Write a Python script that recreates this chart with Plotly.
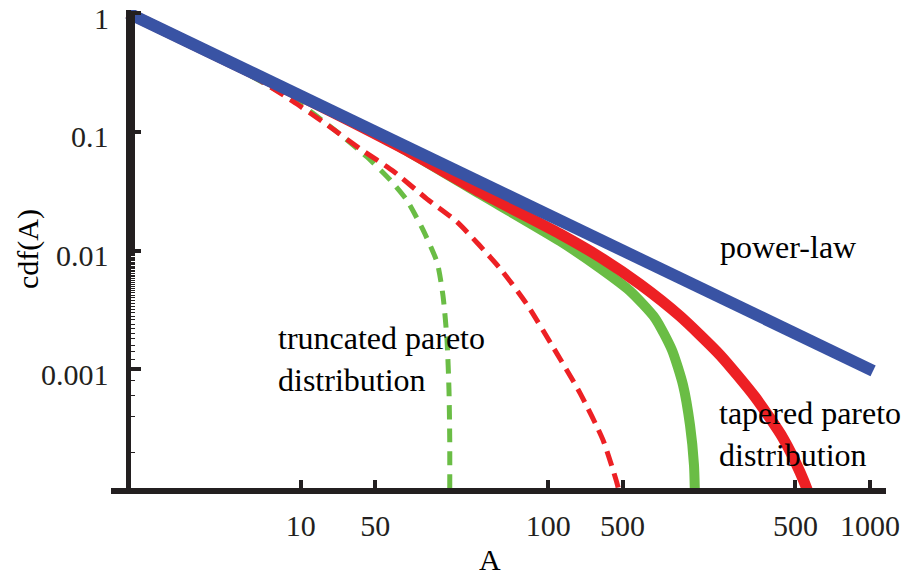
import math
import plotly.graph_objects as go

# Cumulative distributions of A (log-log), read point by point
power_law_A = [1, 10, 100, 1030]
power_law_cdf = [1, 0.1, 0.01, 0.00097]

tapered_A = [1, 4.96, 12.6, 26.5, 55.8, 81.0, 117.6, 170.7, 247.6, 343, 445, 522, 562, 583]
tapered_cdf = [1, 0.2, 0.0744, 0.0311, 0.0138, 0.0088, 0.0052, 0.0028, 0.00132, 0.000585, 0.000264,
               0.000136, 0.0000925, 0.000072]

truncated_A = [1, 4.96, 12.6, 26.5, 55.8, 81.0, 107.1, 135.2, 158.4, 175.5, 187.3, 194.4, 196.3]
truncated_cdf = [1, 0.2, 0.0744, 0.0299, 0.012, 0.0071, 0.00456, 0.0027, 0.00145, 0.000737, 0.000339,
                 0.000156, 0.000079]

tapered_dash_A = [1, 3.1, 4.65, 6.4, 8.7, 11.8, 16.2, 21.4, 31.9, 41.1, 52.3, 67.3, 83.3, 94.9, 98.5]
tapered_dash_cdf = [1, 0.306, 0.18, 0.114, 0.0716, 0.0467, 0.0271, 0.0174, 0.0071, 0.0035, 0.00154,
                    0.00063, 0.000254, 0.00011, 0.000079]

truncated_dash_A = [1, 3.1, 4.96, 6.87, 9.26, 11.5, 13.4, 15.6, 17.8, 18.8, 19.5, 19.86, 20.0, 20.0]
truncated_dash_cdf = [1, 0.3, 0.171, 0.103, 0.0613, 0.0392, 0.0266, 0.0149, 0.0079, 0.0041, 0.00176,
                      0.00067, 0.00025, 0.000079]

x_tick_vals = [5, 10, 50, 100, 500, 1000]
x_tick_text = ["10", "50", "100", "500", "500", "1000"]
y_tick_vals = [1, 0.1, 0.01, 0.001]
y_tick_text = ["1", "0.1", "0.01", "0.001"]

BLUE = "#3953a4"
RED = "#ed2024"
GREEN = "#6abd45"
INK = "#231f20"
FONT = "Liberation Serif"

fig = go.Figure()
fig.add_trace(go.Scatter(x=truncated_dash_A, y=truncated_dash_cdf, mode="lines",
                         line=dict(color=GREEN, width=5, dash="14px,9px", shape="spline", smoothing=0.6)))
fig.add_trace(go.Scatter(x=tapered_dash_A, y=tapered_dash_cdf, mode="lines",
                         line=dict(color=RED, width=5, dash="15px,8px", shape="spline", smoothing=0.6)))
fig.add_trace(go.Scatter(x=truncated_A, y=truncated_cdf, mode="lines",
                         line=dict(color=GREEN, width=10, shape="spline", smoothing=0.6)))
fig.add_trace(go.Scatter(x=tapered_A, y=tapered_cdf, mode="lines",
                         line=dict(color=RED, width=11, shape="spline", smoothing=0.6)))
fig.add_trace(go.Scatter(x=power_law_A, y=power_law_cdf, mode="lines",
                         line=dict(color=BLUE, width=12)))

fig.update_layout(
    width=916, height=578,
    margin=dict(l=111, r=30, t=10, b=90, autoexpand=False),
    showlegend=False,
    plot_bgcolor="white", paper_bgcolor="white",
    font=dict(family=FONT, size=30, color=INK),
    xaxis=dict(type="log", range=[-0.0687, 3.0651], showgrid=False, zeroline=False,
               automargin=False,
               showline=True, linewidth=6, linecolor=INK,
               ticks="inside", ticklen=8, tickwidth=4, tickcolor=INK,
               tickvals=x_tick_vals, ticktext=x_tick_text, ticklabelstandoff=6,
               ticklabeloverflow="allow"),
    yaxis=dict(type="log", range=[-4, 0.0253], showgrid=False, zeroline=False,
               automargin=False,
               anchor="free", position=(128 - 111) / 775,
               showline=True, linewidth=5, linecolor=INK,
               ticks="inside", ticklen=10, tickwidth=4, tickcolor=INK,
               tickvals=y_tick_vals, showticklabels=False,
               minor=dict(ticks="inside", ticklen=4, tickwidth=1.2, tickcolor=INK, showgrid=False)),
)

# y tick labels, set just below their ticks and right-aligned left of the axis
for val, txt in zip(y_tick_vals, y_tick_text):
    fig.add_annotation(text=txt, xref="paper", yref="y", x=0, y=math.log10(val),
                       xanchor="right", yanchor="middle", yshift=-5, showarrow=False,
                       font=dict(family=FONT, size=30, color=INK))

label_font = dict(family=FONT, size=32, color="black")
fig.add_annotation(text="power-law", xref="paper", yref="paper", x=0.783, y=0.505,
                   xanchor="left", yanchor="middle", showarrow=False, font=label_font)
fig.add_annotation(text="truncated pareto<br>distribution", xref="paper", yref="paper",
                   x=0.2129, y=0.2706, xanchor="left", yanchor="middle", align="left",
                   showarrow=False, font=label_font)
fig.add_annotation(text="tapered pareto<br>distribution", xref="paper", yref="paper",
                   x=0.782, y=0.1139, xanchor="left", yanchor="middle", align="left",
                   showarrow=False, font=label_font)
# axis titles
fig.add_annotation(text="A", xref="paper", yref="paper", x=0.489, y=-0.149,
                   xanchor="center", yanchor="middle", showarrow=False,
                   font=dict(family=FONT, size=30, color="black"))
fig.add_annotation(text="cdf(A)", xref="paper", yref="paper", x=-0.107, y=0.5,
                   xanchor="center", yanchor="middle", textangle=-90, showarrow=False,
                   font=dict(family=FONT, size=30, color="black"))

fig.write_html("out.html")
